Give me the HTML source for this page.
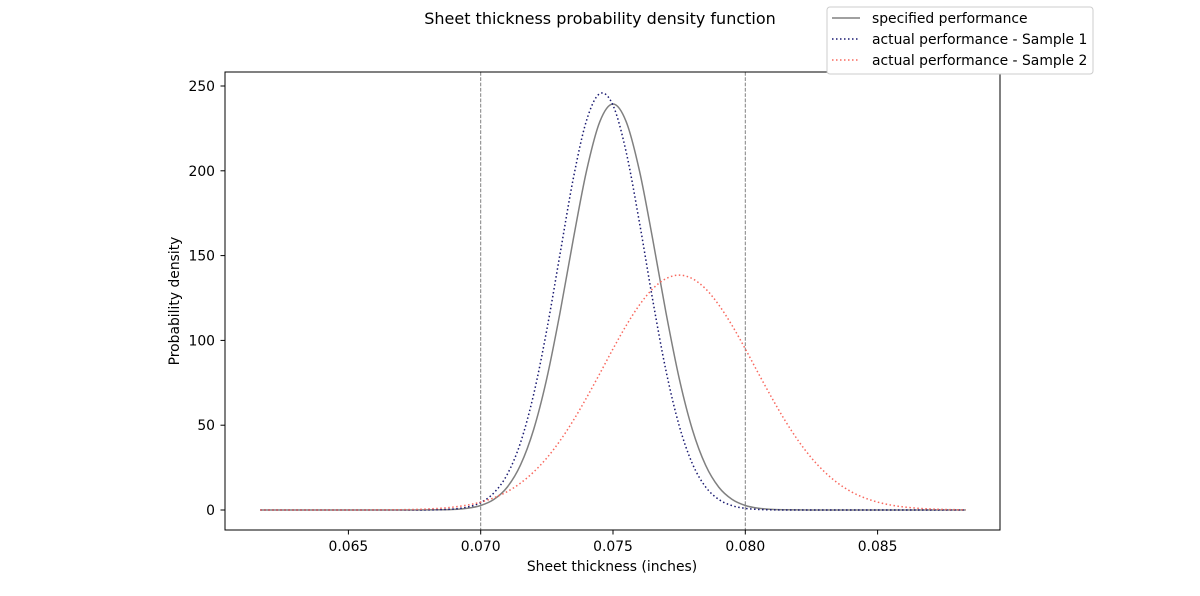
<!DOCTYPE html>
<html><head><meta charset="utf-8"><style>
html,body{margin:0;padding:0;background:#fff;}
svg{display:block;font-family:"DejaVu Sans","Liberation Sans",sans-serif;}
</style></head><body>
<svg id="chart" width="1200" height="596" viewBox="0 0 1200 596">
<text x="600" y="24" text-anchor="middle" font-size="16">Sheet thickness probability density function</text>
<g id="plot"></g>
<rect x="225" y="72" width="775" height="458" fill="none" stroke="#000" stroke-width="1"/>
<text x="612" y="571" text-anchor="middle" font-size="13.9">Sheet thickness (inches)</text>
<text transform="translate(179,301) rotate(-90)" text-anchor="middle" font-size="13.9">Probability density</text>
<g>
<rect x="827" y="7" width="266" height="67" rx="3" fill="#fff" stroke="#ccc"/>
<line x1="832" y1="18" x2="860" y2="18" stroke="#808080" stroke-width="1.5"/>
<text x="872" y="23" font-size="13.9">specified performance</text>
<line x1="832" y1="39" x2="860" y2="39" stroke="#191970" stroke-width="1.5" stroke-dasharray="1.5,2.5"/>
<text x="872" y="44" font-size="13.9">actual performance - Sample 1</text>
<line x1="832" y1="60" x2="860" y2="60" stroke="#f8685e" stroke-width="1.5" stroke-dasharray="1.5,2.5"/>
<text x="872" y="65" font-size="13.9">actual performance - Sample 2</text>
</g>
</svg>
<script>
const xStart = 0.062, xStep = 0.0005;
const specified = [0,0,0,0,0,0,0,0,0,0,0,0,0.04,0.13,0.37,1.03,2.66,6.25,13.4,26.4,47.4,77.7,116.5,159.7,200.0,228.9,239.4,228.9,200.0,159.7,116.5,77.7,47.4,26.4,13.4,6.25,2.66,1.03,0.37,0.13,0.04,0,0,0,0,0,0,0,0,0,0,0,0];
const sample1 = [0,0,0,0,0,0,0,0,0,0,0,0,0.06,0.21,0.63,1.75,4.4,10.1,20.9,39.5,68.1,106.4,151.1,195.5,229.7,245.5,238.6,210.9,169.5,123.9,82.3,49.8,27.3,13.6,6.2,2.57,0.96,0.33,0.1,0,0,0,0,0,0,0,0,0,0,0,0,0,0];
const sample2 = [0,0,0,0,0,0,0,0.02,0.05,0.09,0.18,0.33,0.60,1.05,1.78,2.92,4.66,7.2,10.8,15.8,22.4,30.7,40.9,52.8,66.2,80.4,95.0,108.8,120.9,130.4,136.4,138.5,136.4,130.4,120.9,108.8,95.0,80.4,66.2,52.8,40.9,30.7,22.4,15.8,10.8,7.2,4.66,2.92,1.78,1.05,0.60,0.33,0.18];
const xTicks = [0.065,0.070,0.075,0.080,0.085];
const xTickLabels = ["0.065","0.070","0.075","0.080","0.085"];
const yTicks = [0,50,100,150,200,250];
const specLimits = [0.070,0.080];

const NS="http://www.w3.org/2000/svg";
const plot=document.getElementById('plot');
const sx=v=>480.7+(v-0.070)/0.005*132.3;
const sy=v=>510-v*1.696;
function mk(t,a){const e=document.createElementNS(NS,t);for(const k in a)e.setAttribute(k,a[k]);return e;}

xTicks.forEach((t,i)=>{
  const l=mk('line',{x1:sx(t),y1:530,x2:sx(t),y2:534.5,stroke:'#000'});
  
  
  plot.appendChild(l);
  const tx=mk('text',{x:sx(t),y:551,'text-anchor':'middle','font-size':'13.9'});
  tx.textContent=xTickLabels[i];
  
  
  plot.appendChild(tx);
});
yTicks.forEach(t=>{
  const l=mk('line',{x1:220.5,y1:sy(t),x2:225,y2:sy(t),stroke:'#000'});
  
  
  plot.appendChild(l);
  const tx=mk('text',{x:215,y:sy(t)+5,'text-anchor':'end','font-size':'13.9'});
  tx.textContent=String(t);
  
  
  plot.appendChild(tx);
});
specLimits.forEach(v=>{
  const l=mk('line',{x1:sx(v),y1:72,x2:sx(v),y2:530,stroke:'#808080','stroke-width':1,'stroke-dasharray':'3.7,1.6'});
  
  
  plot.appendChild(l);
});
function pathFor(arr){
  const pts=arr.map((v,i)=>[sx(xStart+i*xStep),sy(v)]);
  pts.unshift([sx(0.06167),sy(arr[0])]);
  pts.push([sx(0.08833),sy(arr[arr.length-1])]);
  let d='M'+pts[0][0].toFixed(2)+','+pts[0][1].toFixed(2);
  for(let i=0;i<pts.length-1;i++){
    const p0=pts[Math.max(0,i-1)],p1=pts[i],p2=pts[i+1],p3=pts[Math.min(pts.length-1,i+2)];
    const c1=[p1[0]+(p2[0]-p0[0])/6,Math.min(sy(0),p1[1]+(p2[1]-p0[1])/6)];
    const c2=[p2[0]-(p3[0]-p1[0])/6,Math.min(sy(0),p2[1]-(p3[1]-p1[1])/6)];
    d+='C'+c1[0].toFixed(2)+','+c1[1].toFixed(2)+' '+c2[0].toFixed(2)+','+c2[1].toFixed(2)+' '+p2[0].toFixed(2)+','+p2[1].toFixed(2);
  }
  return d;
}
const p1=mk('path',{d:pathFor(specified),fill:'none',stroke:'#808080','stroke-width':1.5});


plot.appendChild(p1);
const p2=mk('path',{d:pathFor(sample1),fill:'none',stroke:'#191970','stroke-width':1.5,'stroke-dasharray':'1.5,2.5'});


plot.appendChild(p2);
const p3=mk('path',{d:pathFor(sample2),fill:'none',stroke:'#f8685e','stroke-width':1.5,'stroke-dasharray':'1.5,2.5'});


plot.appendChild(p3);
</script>
</body></html>
